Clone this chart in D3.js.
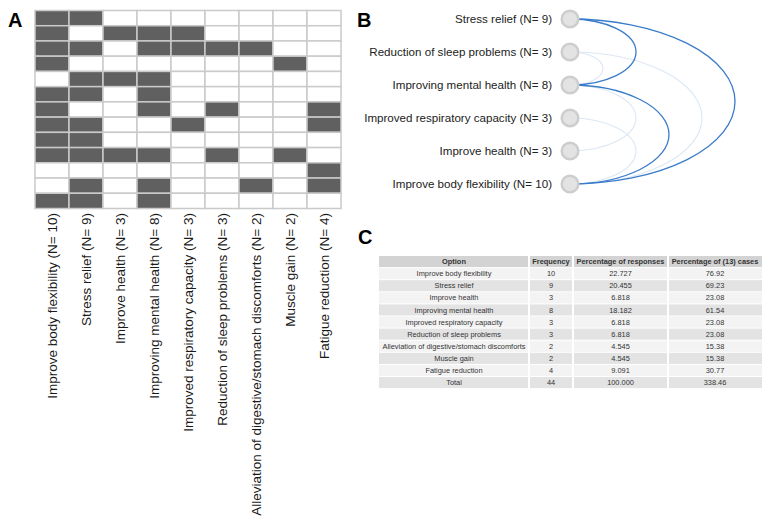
<!DOCTYPE html>
<html><head><meta charset="utf-8">
<script src="https://cdn.jsdelivr.net/npm/d3@7"></script>
<style>
html,body{margin:0;padding:0;background:#fff;}
svg{display:block;font-family:"Liberation Sans",Arial,Helvetica,sans-serif;}
</style></head>
<body>
<script>
// ---------- Panel A data ----------
const options = ["Improve body flexibility (N= 10)","Stress relief (N= 9)","Improve health (N= 3)","Improving mental health (N= 8)","Improved respiratory capacity (N= 3)","Reduction of sleep problems (N= 3)","Alleviation of digestive/stomach discomforts (N= 2)","Muscle gain (N= 2)","Fatigue reduction (N= 4)"];
const responses = [
  [1,1,0,0,0,0,0,0,0],
  [1,0,1,1,1,0,0,0,0],
  [1,1,0,1,1,1,1,0,0],
  [1,0,0,0,0,0,0,1,0],
  [0,1,1,1,0,0,0,0,0],
  [1,1,0,1,0,0,0,0,0],
  [1,0,0,1,0,1,0,0,1],
  [1,1,0,0,1,0,0,0,1],
  [1,1,0,0,0,0,0,0,0],
  [1,1,1,1,0,1,0,1,0],
  [0,0,0,0,0,0,0,0,1],
  [0,1,0,1,0,0,1,0,1],
  [1,1,0,1,0,0,0,0,0]
];
// ---------- Panel B data ----------
const nodes = ["Stress relief (N= 9)","Reduction of sleep problems (N= 3)","Improving mental health (N= 8)","Improved respiratory capacity (N= 3)","Improve health (N= 3)","Improve body flexibility (N= 10)"];
const linkSource = [0,5,0,1,1,2,3];
const linkTarget = [5,2,2,2,5,4,5];
const linkValue  = [7,6,5,3,3,3,3];
// ---------- Panel C data ----------
const tableHeader = ["Option","Frequency","Percentage of responses","Percentage of (13) cases"];
const tableOption = ["Improve body flexibility","Stress relief","Improve health","Improving mental health","Improved respiratory capacity","Reduction of sleep problems","Alleviation of digestive/stomach discomforts","Muscle gain","Fatigue reduction","Total"];
const tableFreq = ["10","9","3","8","3","3","2","2","4","44"];
const tablePctResp = ["22.727","20.455","6.818","18.182","6.818","6.818","4.545","4.545","9.091","100.000"];
const tablePctCases = ["76.92","69.23","23.08","61.54","23.08","23.08","15.38","15.38","30.77","338.46"];

const W = 771, H = 522;
const svg = d3.select("body").append("svg").attr("width", W).attr("height", H);

// panel letters
const letters = [["A",8,27],["B",357,27],["C",358,244]];
svg.selectAll("text.panel").data(letters).enter().append("text")
  .attr("class","panel").attr("x",d=>d[1]).attr("y",d=>d[2])
  .attr("font-size",20).attr("font-weight","bold").attr("fill","#000").text(d=>d[0]);

// ---------- Panel A ----------
const gA = svg.append("g");
const xA = d3.scaleBand().domain(d3.range(options.length)).range([35, 341]);
const yA = d3.scaleBand().domain(d3.range(responses.length)).range([10.5, 208.5]);
const cells = [];
responses.forEach((row, r) => row.forEach((v, c) => cells.push({r, c, v})));
gA.selectAll("rect").data(cells).enter().append("rect")
  .attr("x", d => xA(d.c)).attr("y", d => yA(d.r))
  .attr("width", xA.bandwidth()).attr("height", yA.bandwidth())
  .attr("fill", d => d.v ? "#606060" : "#ffffff")
  .attr("stroke", "#cacaca").attr("stroke-width", 1.5);
gA.selectAll("text.col").data(options).enter().append("text")
  .attr("class","col")
  .attr("transform", (d,i) => `translate(${xA(i)+xA.bandwidth()/2},213) rotate(-90)`)
  .attr("text-anchor","end").attr("dy","0.35em")
  .attr("font-size",13.5).attr("fill","#1a1a1a").text(d=>d);

// ---------- Panel B ----------
const gB = svg.append("g");
const yB = d3.scalePoint().domain(d3.range(nodes.length)).range([19, 184]);
const xB = 570;
const links = linkSource.map((s,i)=>({s, t: linkTarget[i], v: linkValue[i]}));
const col = d3.scaleThreshold().domain([5]).range(["#dce7f3","#3a7cc9"]);
gB.selectAll("path").data(links.slice().sort((a,b)=>a.v-b.v)).enter().append("path")
  .attr("d", d => {
    const y1 = yB(d.s), y2 = yB(d.t);
    const dy = Math.abs(y2 - y1);
    const top = Math.min(y1,y2), bot = Math.max(y1,y2);
    return `M${xB},${top} A${dy},${dy/2} 0 0 1 ${xB},${bot}`;
  })
  .attr("fill","none").attr("stroke", d => col(d.v)).attr("stroke-width", d => d.v>=5 ? 1.3 : 1.1);
gB.selectAll("circle").data(nodes).enter().append("circle")
  .attr("cx", xB).attr("cy", (d,i)=>yB(i)).attr("r", 8.3)
  .attr("fill","#e3e3e3").attr("stroke","#cdcdcd").attr("stroke-width",2.5);
gB.selectAll("text.node").data(nodes).enter().append("text")
  .attr("class","node").attr("x",552).attr("y",(d,i)=>yB(i)).attr("dy","0.35em")
  .attr("text-anchor","end").attr("font-size",11.6).attr("fill","#222").text(d=>d);

// ---------- Panel C ----------
const gC = svg.append("g");
const colEdges = [379, 529, 573, 668, 762];
const rowH = 12.1, top0 = 256;
const nRows = tableOption.length + 1;
const yC = d3.scaleBand().domain(d3.range(nRows)).range([top0, top0 + rowH*nRows]);
const rowsData = [tableHeader].concat(tableOption.map((o,i)=>[o, tableFreq[i], tablePctResp[i], tablePctCases[i]]));
const rowFill = i => i === 0 ? "#d3d3d3" : (i % 2 === 1 ? "#f3f3f3" : "#e3e3e3");
rowsData.forEach((row, ri) => {
  row.forEach((txt, ci) => {
    gC.append("rect").attr("x", colEdges[ci] + (ci>0?1:0)).attr("y", yC(ri))
      .attr("width", colEdges[ci+1]-colEdges[ci] - (ci>0?1:0) - (ci<3?1:0))
      .attr("height", rowH - 1).attr("fill", rowFill(ri));
    gC.append("text").attr("x",(colEdges[ci]+colEdges[ci+1])/2).attr("y", yC(ri)+rowH/2-0.5)
      .attr("dy","0.35em").attr("text-anchor","middle")
      .attr("font-size",7.4).attr("font-weight", ri===0?"bold":"normal")
      .attr("fill", "#333").text(txt);
  });
});
</script>
</body></html>
